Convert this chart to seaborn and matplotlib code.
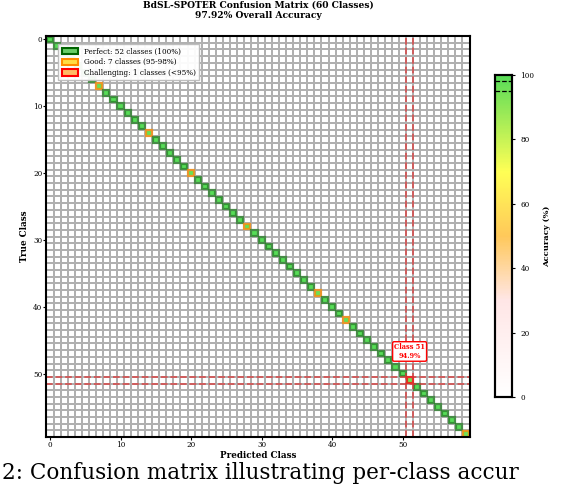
import numpy as np
import matplotlib
matplotlib.use("Agg")
import matplotlib.pyplot as plt
from matplotlib.colors import LinearSegmentedColormap
from matplotlib.patches import Rectangle, Patch
import seaborn as sns

# per-class accuracy
n_classes = 60
good_classes = [7, 14, 20, 28, 38, 42, 59]
good_acc = [96.8, 97.1, 96.5, 97.4, 96.2, 97.6, 95.8]
hard_classes = [51]
hard_acc = [94.9]
tick_vals = [0, 10, 20, 30, 40, 50]
cbar_ticks = [0, 20, 40, 60, 80, 100]
cbar_marks = [95, 98]
legend_labels = ["Perfect: 52 classes (100%)",
                 "Good: 7 classes (95-98%)",
                 "Challenging: 1 classes (<95%)"]
caption = "2: Confusion matrix illustrating per-class accur"

acc = np.full(n_classes, 100.0)
acc[good_classes] = good_acc
acc[hard_classes] = hard_acc
cm = np.diag(acc)

plt.rcParams['font.family'] = ['DejaVu Serif']

cmap = LinearSegmentedColormap.from_list(
    "acc", [(0.0, "#ffffff"), (0.3, "#ffe6e6"), (0.5, "#ffc85a"),
            (0.7, "#ffff55"), (1.0, "#58dc58")])

fig = plt.figure(figsize=(5.74, 4.88), dpi=100)
ax = fig.add_axes([0.081, 0.1045, 0.737, 0.8215])
cax = fig.add_axes([0.862, 0.1865, 0.030, 0.66])

sns.heatmap(cm, ax=ax, cbar_ax=cax, cmap=cmap, vmin=0, vmax=100,
            linewidths=0.35, linecolor="#b0b0b0", square=False,
            xticklabels=False, yticklabels=False)

# outline every diagonal cell by its category
for i in range(n_classes):
    if i in hard_classes:
        ec = "red"
    elif i in good_classes:
        ec = "darkorange"
    else:
        ec = "#267f26"
    ax.add_patch(Rectangle((i + 0.07, i + 0.07), 0.86, 0.86, fill=False,
                           edgecolor=ec, lw=1.6, alpha=0.75))

# highlight the hardest class
for c in hard_classes:
    for v in (c, c + 1):
        ax.axvline(v, color="#e03030", ls="--", lw=1.3, alpha=0.7)
        ax.axhline(v, color="#e03030", ls="--", lw=1.3, alpha=0.7)
    ax.text(c + 0.5, c - 3.8, f"Class {c}\n{acc[c]:.1f}%", ha="center", va="center",
            fontsize=4.8, color="red", fontweight="bold", linespacing=1.1,
            bbox=dict(boxstyle="round,pad=0.22", fc="white", ec="red", lw=1))

ax.set_xticks([t + 0.5 for t in tick_vals])
ax.set_xticklabels(tick_vals, rotation=0)
ax.set_yticks([t + 0.5 for t in tick_vals])
ax.set_yticklabels(tick_vals, rotation=0)
ax.tick_params(labelsize=5.2, length=2, width=0.8, pad=1)
for s in ax.spines.values():
    s.set_visible(True)
    s.set_linewidth(1.5)
    s.set_color("black")

ax.set_xlabel("Predicted Class", fontsize=6.3, fontweight="bold", labelpad=1)
ax.set_ylabel("True Class", fontsize=6.3, fontweight="bold", labelpad=3)
ax.set_title("BdSL-SPOTER Confusion Matrix (60 Classes)\n97.92% Overall Accuracy",
             fontsize=6.6, fontweight="bold", pad=13, linespacing=1.25)

handles = [Patch(facecolor="#66cc66", edgecolor="darkgreen", lw=1.5),
           Patch(facecolor="#ffdd44", edgecolor="darkorange", lw=1.5),
           Patch(facecolor="#ffbb66", edgecolor="red", lw=1.5)]
leg = ax.legend(handles, legend_labels, loc="upper left",
                bbox_to_anchor=(0.028, 0.98), borderaxespad=0, fontsize=5.2,
                frameon=True, fancybox=False, shadow=False, handlelength=2.2,
                handleheight=1.0, labelspacing=0.35, borderpad=0.5,
                framealpha=0.95)
leg.get_frame().set_edgecolor("#bbbbbb")

cax.set_ylabel("Accuracy (%)", fontsize=6, fontweight="bold", labelpad=6)
cax.set_yticks(cbar_ticks)
cax.tick_params(labelsize=5.2, length=2.5, width=0.8)
for m in cbar_marks:
    cax.axhline(m, color="black", ls="--", lw=0.9)
for s in cax.spines.values():
    s.set_visible(True)
    s.set_linewidth(1.5)

fig.text(0.003, 0.018, caption, fontsize=15.5, ha="left", va="baseline")

fig.savefig("out.png", dpi=100)
